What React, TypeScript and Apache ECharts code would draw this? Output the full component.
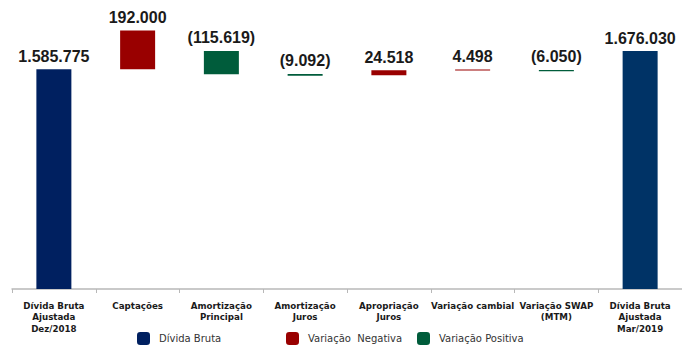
import React, { useEffect, useRef } from "react";
import * as echarts from "echarts";

const categories = [
  "Dívida Bruta\nAjustada\nDez/2018",
  "Captações",
  "Amortização\nPrincipal",
  "Amortização\nJuros",
  "Apropriação\nJuros",
  "Variação cambial",
  "Variação SWAP\n(MTM)",
  "Dívida Bruta\nAjustada\nMar/2019",
];

// invisible floating base of each bar
const floatBase = [0, 1585.775, 1561, 1554, 1557, 1580, 1576.5, 0];
const dividaBruta: (number | string)[] = [1585.775, "-", "-", "-", "-", "-", "-", 1676.03];
const variacaoNegativa: (number | string)[] = ["-", 192.0, "-", "-", 24.518, 4.498, "-", "-"];
const variacaoPositiva: (number | string)[] = ["-", "-", 115.619, 9.092, "-", "-", 6.05, "-"];

const fmt = (v: number) => {
  const n = Math.round(v * 1000);
  return String(n).replace(/\B(?=(\d{3})+(?!\d))/g, ".");
};

const NAVY = "#002060";
const NAVY2 = "#003366";
const RED = "#990000";
const GREEN = "#005c3b";

export default function App() {
  const ref = useRef<HTMLDivElement>(null);
  useEffect(() => {
    if (!ref.current) return;
    const chart = echarts.init(ref.current, null, { renderer: "svg" });
    const valueLabel = {
      show: true,
      position: "top" as const,
      distance: 5,
      fontFamily: "Liberation Sans",
      fontWeight: "bold" as const,
      fontSize: 16,
      color: "#1a1a1a",
    };
    const legendBase = {
      top: 332,
      itemWidth: 13,
      itemHeight: 13,
      icon: "roundRect",
      padding: 0,
      textStyle: { fontFamily: "DejaVu Sans", fontSize: 10, color: "#333", padding: [0, 0, 0, 4] },
    };
    chart.setOption({
      animation: false,
      grid: { left: 12, width: 674, top: 26, bottom: 60 },
      legend: [
        { ...legendBase, left: 137, data: ["Dívida Bruta"] },
        { ...legendBase, left: 286, data: ["Variação  Negativa"] },
        { ...legendBase, left: 417, data: ["Variação Positiva"] },
      ],
      xAxis: {
        type: "category",
        data: categories,
        axisLine: { show: true, lineStyle: { color: "#b8b8b8", width: 1.5 } },
        axisTick: { show: true, length: 4, lineStyle: { color: "#b8b8b8" } },
        axisLabel: {
          interval: 0,
          margin: 11,
          fontFamily: "DejaVu Sans",
          fontWeight: "bold",
          fontSize: 8.7,
          lineHeight: 11.6,
          color: "#1a1a1a",
        },
      },
      yAxis: {
        type: "value",
        min: 500,
        max: 1800,
        show: false,
        splitLine: { show: false },
      },
      series: [
        {
          name: "base",
          type: "bar",
          stack: "w",
          barWidth: 35,
          silent: true,
          itemStyle: { color: "transparent" },
          data: floatBase,
        },
        {
          name: "Dívida Bruta",
          type: "bar",
          stack: "w",
          barWidth: 35,
          itemStyle: { color: NAVY },
          label: { ...valueLabel, formatter: (p: any) => fmt(p.value) },
          data: dividaBruta.map((v, i) =>
            i === dividaBruta.length - 1 ? { value: v, itemStyle: { color: NAVY2 } } : v
          ),
        },
        {
          name: "Variação  Negativa",
          type: "bar",
          stack: "w",
          barWidth: 35,
          itemStyle: { color: RED },
          label: { ...valueLabel, formatter: (p: any) => fmt(p.value) },
          data: variacaoNegativa,
        },
        {
          name: "Variação Positiva",
          type: "bar",
          stack: "w",
          barWidth: 35,
          itemStyle: { color: GREEN },
          label: { ...valueLabel, formatter: (p: any) => "(" + fmt(p.value) + ")" },
          data: variacaoPositiva,
        },
      ],
    });
    return () => chart.dispose();
  }, []);
  return (
    <div
      ref={ref}
      style={{ position: "fixed", left: 0, top: 0, width: 682, height: 349, background: "#fff" }}
    />
  );
}
